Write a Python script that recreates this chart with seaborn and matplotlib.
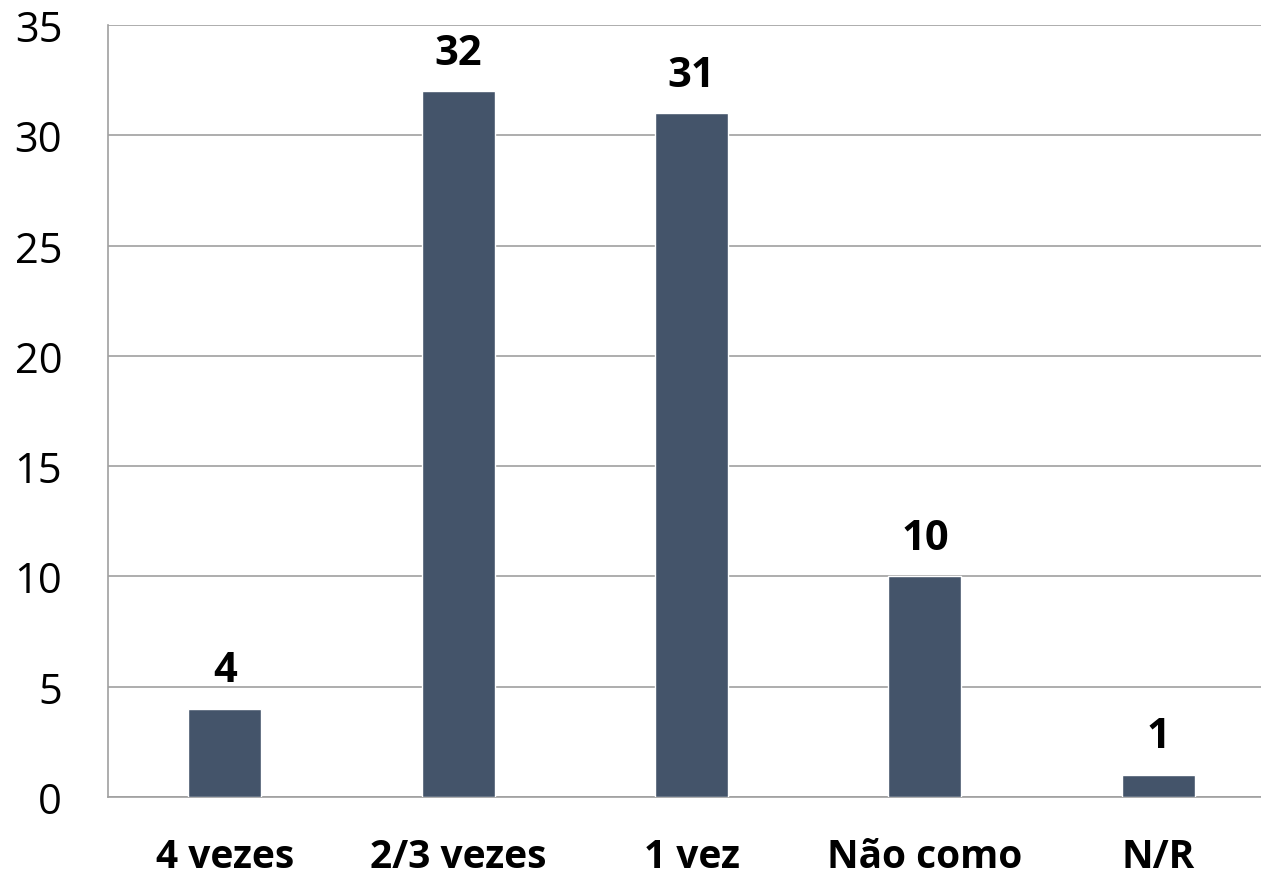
import pandas as pd
import matplotlib
matplotlib.use("Agg")
import matplotlib.pyplot as plt
import seaborn as sns

categorias = ["4 vezes", "2/3 vezes", "1 vez", "Não como", "N/R"]
valores = [4, 32, 31, 10, 1]

df = pd.DataFrame({"categoria": categorias, "valor": valores})

sns.set_style("white")
plt.rcParams["font.family"] = ["Open Sans", "DejaVu Sans"]
plt.rcParams["text.color"] = "black"
plt.rcParams["xtick.color"] = "black"
plt.rcParams["ytick.color"] = "black"

fig = plt.figure(figsize=(12.61, 8.79), dpi=100)
ax = fig.add_axes([0.0857, 0.0922, 0.9254, 0.878])

sns.barplot(data=df, x="categoria", y="valor", color="#44546A", width=0.313,
            saturation=1, ax=ax, zorder=3)

ax.set_ylim(0, 35)
ax.set_yticks(range(0, 36, 5))
ax.set_xlim(-0.5, 4.5)
ax.yaxis.grid(True, color="#A0A0A0", linewidth=1.2, zorder=0)
ax.set_axisbelow(True)
for s in ["top", "right"]:
    ax.spines[s].set_visible(False)
for s in ["left", "bottom"]:
    ax.spines[s].set_color("#A0A0A0")
    ax.spines[s].set_linewidth(1.2)

ax.set_xlabel("")
ax.set_ylabel("")
ax.tick_params(axis="y", labelsize=30, length=0, pad=33)
ax.tick_params(axis="x", labelsize=28, length=0, pad=29)
for lbl in ax.get_xticklabels():
    lbl.set_fontweight("bold")

for i, v in enumerate(valores):
    ax.text(i, v + 0.8, str(v), ha="center", va="bottom", fontsize=30,
            fontweight="bold", color="black")

fig.savefig("out.png", dpi=100)
